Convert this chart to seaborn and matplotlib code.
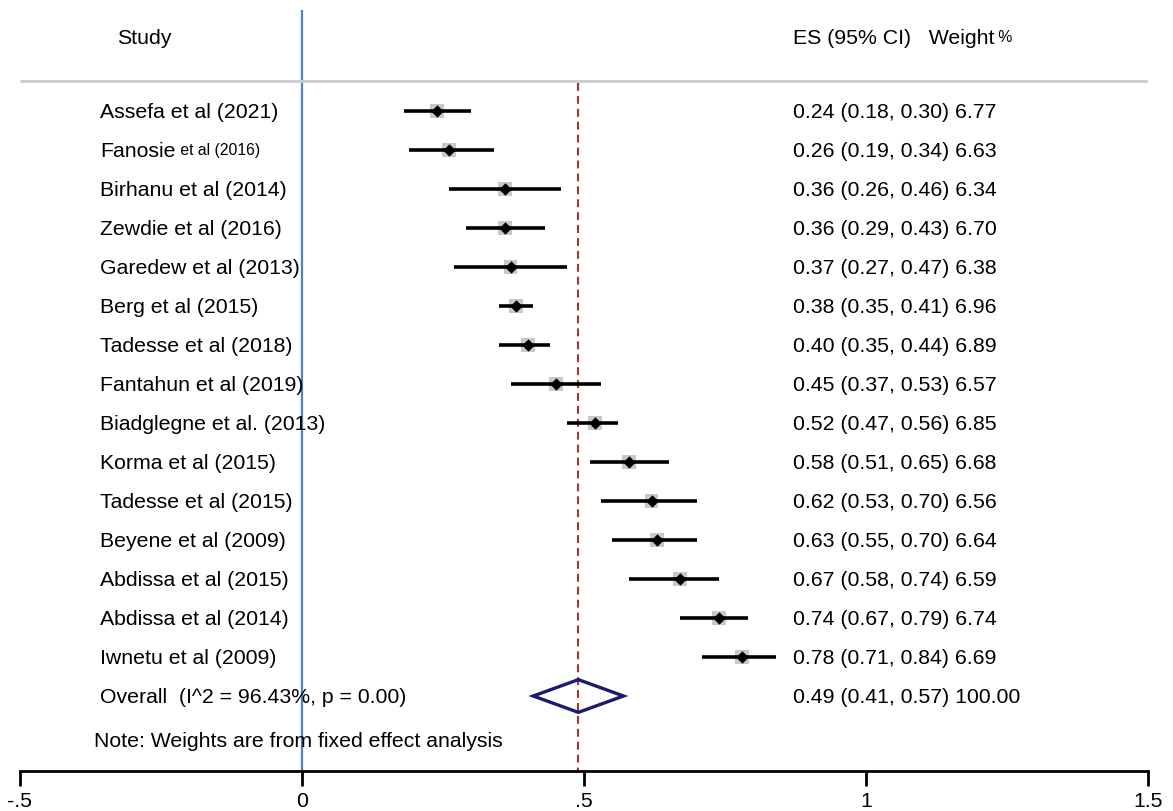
import matplotlib
matplotlib.use("Agg")
import matplotlib.pyplot as plt
from matplotlib.patches import Polygon
import numpy as np
import pandas as pd
import seaborn as sns

# ── data ────────────────────────────────────────────────────────────────────
studies = ["Assefa et al (2021)", "Fanosie", "Birhanu et al (2014)",
           "Zewdie et al (2016)", "Garedew et al (2013)", "Berg et al (2015)",
           "Tadesse et al (2018)", "Fantahun et al (2019)",
           "Biadglegne et al. (2013)", "Korma et al (2015)",
           "Tadesse et al (2015)", "Beyene et al (2009)", "Abdissa et al (2015)",
           "Abdissa et al (2014)", "Iwnetu et al (2009)"]
es = [0.24, 0.26, 0.36, 0.36, 0.37, 0.38, 0.40, 0.45, 0.52, 0.58, 0.62, 0.63,
      0.67, 0.74, 0.78]
lo = [0.18, 0.19, 0.26, 0.29, 0.27, 0.35, 0.35, 0.37, 0.47, 0.51, 0.53, 0.55,
      0.58, 0.67, 0.71]
hi = [0.30, 0.34, 0.46, 0.43, 0.47, 0.41, 0.44, 0.53, 0.56, 0.65, 0.70, 0.70,
      0.74, 0.79, 0.84]
weight = [6.77, 6.63, 6.34, 6.70, 6.38, 6.96, 6.89, 6.57, 6.85, 6.68, 6.56,
          6.64, 6.59, 6.74, 6.69]
overall_es, overall_lo, overall_hi = 0.49, 0.41, 0.57
overall_label = "Overall  (I^2 = 96.43%, p = 0.00)"
note = "Note: Weights are from fixed effect analysis"
xticks = [-0.5, 0, 0.5, 1, 1.5]
xticklabels = ["-.5", "0", ".5", "1", "1.5"]

df = pd.DataFrame({"study": studies, "es": es, "lo": lo, "hi": hi,
                   "weight": weight, "row": np.arange(len(studies))})

# ── figure ──────────────────────────────────────────────────────────────────
sns.set_style("white")
plt.rcParams["font.family"] = ["Liberation Sans", "DejaVu Sans"]
plt.rcParams["text.color"] = "black"

W, H = 1173, 811
fig = plt.figure(figsize=(W / 100, H / 100), dpi=100)
ax = fig.add_axes([20 / W, 40 / H, 1128 / W, 761 / H])


def px_x(p):
    # pixel column -> data x (x=-0.5 at 20 px, 564 px per unit)
    return (p - 20) / 564 - 0.5


def px_y(p):
    # pixel row -> data row (row 0 at 111 px, 39 px per row)
    return (p - 111) / 39


n = len(studies)
row_overall = n
ax.set_xlim(-0.5, 1.5)
ax.set_ylim(px_y(771), px_y(10))

# reference lines
ax.axvline(0, color="#4f81bd", linewidth=1.6, zorder=1)
y_head = px_y(37)
y_rule = px_y(81)
y_note = px_y(740)
ax.plot([-0.5, 1.5], [y_rule, y_rule], color="#cccccc", linewidth=2, zorder=1,
        solid_capstyle="butt")
ax.plot([overall_es, overall_es], [y_rule + 0.05, ax.get_ylim()[0]],
        color="#a83236", linewidth=1.5, linestyle=(0, (3.8, 2.4)), zorder=1)

# study markers
sns.scatterplot(data=df, x="es", y="row", size="weight", sizes=(92, 104),
                marker="s", color="#c8c8c8", linewidth=0, legend=False,
                ax=ax, zorder=2)
ax.hlines(df["row"], df["lo"], df["hi"], color="black", linewidth=2.6, zorder=3)
sns.scatterplot(data=df, x="es", y="row", marker="D", color="black", s=40,
                linewidth=0, legend=False, ax=ax, zorder=4)

# overall diamond
dia = Polygon([(overall_lo, row_overall), (overall_es, row_overall - 0.42),
               (overall_hi, row_overall), (overall_es, row_overall + 0.42)],
              closed=True, fill=False, edgecolor="#1b1b6b", linewidth=2.4,
              zorder=4)
ax.add_patch(dia)

# text columns
fs = 15.3
dy = 0.03
x_lab = px_x(100)
x_es = px_x(793)
ax.text(px_x(117), y_head + dy, "Study", fontsize=fs, va="center")
hdr = ax.text(x_es, y_head + dy, "ES (95% CI)   Weight", fontsize=fs,
              va="center")
ax.annotate(" %", xy=(1, 0.12), xycoords=hdr, fontsize=11.3, va="bottom")

for i, row in df.iterrows():
    t = ax.text(x_lab, row["row"] + dy, row["study"], fontsize=fs, va="center")
    if row["study"] == "Fanosie":
        ax.annotate(" et al (2016)", xy=(1, 0.12), xycoords=t, fontsize=11.3,
                    va="bottom")
    ax.text(x_es, row["row"] + dy,
            f"{row['es']:.2f} ({row['lo']:.2f}, {row['hi']:.2f}) {row['weight']:.2f}",
            fontsize=fs, va="center")

ax.text(x_lab, row_overall + dy, overall_label, fontsize=fs, va="center")
ax.text(x_es, row_overall + dy,
        f"{overall_es:.2f} ({overall_lo:.2f}, {overall_hi:.2f}) 100.00",
        fontsize=fs, va="center")
ax.text(px_x(94), y_note + dy, note, fontsize=fs, va="center")

# axis
for side in ("top", "right", "left"):
    ax.spines[side].set_visible(False)
ax.spines["bottom"].set_linewidth(2)
ax.spines["bottom"].set_color("black")
ax.set_yticks([])
ax.set_xticks(xticks)
ax.set_xticklabels(xticklabels)
ax.tick_params(axis="x", bottom=True, direction="out", length=11, width=2,
               color="black", labelcolor="black", labelsize=fs, pad=4)
ax.set_xlabel("")
ax.set_ylabel("")

fig.savefig("out.png", dpi=100, facecolor="white")
